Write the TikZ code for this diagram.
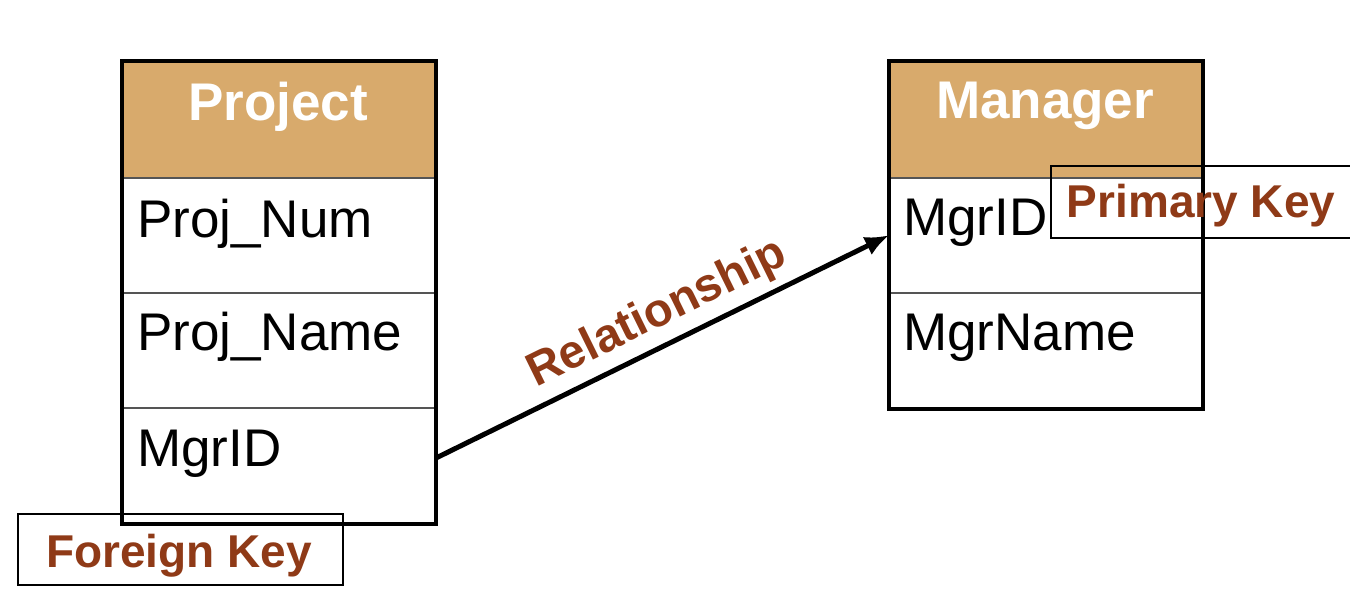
\documentclass[tikz,border=0pt]{standalone}
\usepackage{fontspec}
\setmainfont{Liberation Sans}
\usetikzlibrary{arrows.meta}
\definecolor{tan}{HTML}{D8AA6C}
\definecolor{keybrown}{HTML}{8F3A17}
\definecolor{rowline}{HTML}{555555}
\tikzset{
  hdr/.style={rectangle, fill=tan, draw=rowline, line width=1.5pt, minimum width=312pt, minimum height=116pt, anchor=north west, inner sep=0pt},
  row/.style={rectangle, draw=rowline, line width=1.5pt, minimum width=312pt, minimum height=115pt, anchor=north west, inner sep=0pt},
  hdrtext/.style={font=\bfseries\fontsize{53}{60}\selectfont, text=white, anchor=base, inner sep=0pt},
  rowtext/.style={font=\fontsize{53}{60}\selectfont, text=black, anchor=base west, inner sep=0pt},
  keybox/.style={rectangle, draw=black, line width=1.5pt, anchor=north west, inner sep=0pt},
  keytext/.style={font=\bfseries\fontsize{46}{52}\selectfont, text=keybrown, anchor=base, inner sep=0pt},
  outer/.style={draw=black, line width=4pt},
  rel/.style={draw=black, line width=5pt, -{Latex[length=24pt,width=20pt]}}
}
\begin{document}
\begin{tikzpicture}[x=1pt,y=-1pt]
\useasboundingbox (0,0) rectangle (1350,594);
% Project table
\node[hdr] (ph) at (122,61) {};
\node[row] (p1) at (122,177) {};
\node[row] (p2) at (122,292) {};
\node[row] (p3) at (122,407) {};
\draw[outer] (ph.north west) rectangle (p3.south east);
\node[hdrtext] (pht) at (278,120) {Project};
\node[rowtext] (p1t) at (137,237) {Proj\_Num};
\node[rowtext] (p2t) at (137,350) {Proj\_Name};
\node[rowtext] (p3t) at (137,466) {MgrID};
% Manager table
\node[hdr] (mh) at (889,61) {};
\node[row] (m1) at (889,177) {};
\node[row] (m2) at (889,292) {};
\draw[outer] (mh.north west) rectangle (m2.south east);
\node[hdrtext] (mht) at (1045,118) {Manager};
\node[rowtext] (m1t) at (903,235) {MgrID};
\node[rowtext] (m2t) at (903,350) {MgrName};
% Key boxes
\node[keybox, minimum width=300pt, minimum height=72pt] (pk) at (1050,165) {};
\node[keytext] (pkt) at (1201,217) {Primary Key};
\node[keybox, minimum width=325pt, minimum height=71pt] (fk) at (17,513) {};
\node[keytext] (fkt) at (179,567) {Foreign Key};
% Relationship
\draw[rel] ([yshift=7pt]p3.east) -- (m1.west);
\path ([yshift=7pt]p3.east) -- (m1.west) node[pos=0.52, sloped, above=9pt, font=\bfseries\fontsize{47}{52}\selectfont, text=keybrown, inner sep=0pt] (relt) {Relationship};
\end{tikzpicture}
\end{document}
